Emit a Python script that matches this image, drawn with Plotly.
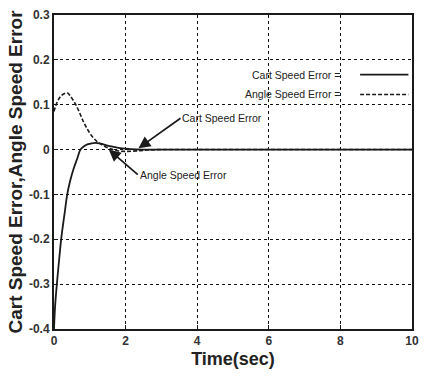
import plotly.graph_objects as go

# Data
t_cart = [0, 0.03, 0.08, 0.15, 0.2, 0.3, 0.37, 0.45, 0.55, 0.65, 0.74, 0.85, 0.95, 1.05, 1.17, 1.3, 1.45, 1.6, 1.8, 2.0, 2.3, 2.7, 3.0, 4.0, 6.0, 8.0, 10.0]
cart_err = [-0.4, -0.35, -0.3, -0.24, -0.2, -0.14, -0.1, -0.07, -0.042, -0.02, 0.0, 0.008, 0.012, 0.014, 0.015, 0.013, 0.01, 0.007, 0.004, 0.002, 0.0005, 0.0, 0.0, 0.0, 0.0, 0.0, 0.0]

t_angle = [0, 0.05, 0.1, 0.2, 0.3, 0.38, 0.45, 0.58, 0.7, 0.8, 0.9, 1.03, 1.2, 1.4, 1.6, 1.8, 2.0, 2.3, 2.6, 3.0, 4.0, 6.0, 8.0, 10.0]
angle_err = [0.085, 0.098, 0.108, 0.12, 0.125, 0.126, 0.12, 0.104, 0.085, 0.066, 0.05, 0.033, 0.018, 0.008, 0.001, -0.003, -0.004, -0.003, -0.001, 0.0, 0.0, 0.0, 0.0, 0.0]

x_ticks = [0, 2, 4, 6, 8, 10]
y_ticks = [0.3, 0.2, 0.1, 0, -0.1, -0.2, -0.3, -0.4]
y_labels = ["0.3", "0.2", "0.1", "0", "-0.1", "-0.2", "-0.3", "-0.4"]

legend_names = ["Cart Speed Error =", "Angle Speed Error ="]

FONT = "Liberation Sans"
INK = "#1a1a1a"
DASH = "4px,2px"

fig = go.Figure()
fig.add_trace(go.Scatter(x=t_cart, y=cart_err, mode="lines", line=dict(color=INK, width=1.8), line_shape="spline", showlegend=False))
fig.add_trace(go.Scatter(x=t_angle, y=angle_err, mode="lines", line=dict(color=INK, width=1.6, dash=DASH), line_shape="spline", showlegend=False))

# Legend (text left, line sample right)
leg_y = [0.81, 0.747]
for name, yy, dash in zip(legend_names, leg_y, ["solid", DASH]):
    fig.add_annotation(xref="paper", yref="paper", x=0.805, y=yy, text=name, showarrow=False,
                       xanchor="right", yanchor="middle", font=dict(family=FONT, size=10.5, color="#222"))
    fig.add_shape(type="line", xref="paper", yref="paper", x0=0.855, x1=0.99, y0=yy, y1=yy,
                  line=dict(color=INK, width=1.6, dash=dash))

# Arrow annotations
fig.add_annotation(x=2.36, y=0.003, ax=42, ay=-30, text="Cart Speed Error", showarrow=True,
                   arrowhead=2, arrowsize=1.4, arrowwidth=1.7, arrowcolor=INK,
                   xanchor="left", yanchor="middle", font=dict(family=FONT, size=10.5, color="#222"))
fig.add_annotation(x=1.53, y=0.0, ax=29, ay=25, text="Angle Speed Error", showarrow=True,
                   arrowhead=2, arrowsize=1.4, arrowwidth=1.7, arrowcolor=INK,
                   xanchor="left", yanchor="middle", font=dict(family=FONT, size=10.5, color="#222"))

axis_common = dict(showgrid=True, gridcolor="#111", griddash="dot", gridwidth=1.3,
                   showline=True, linecolor=INK, linewidth=2, mirror=True,
                   ticks="inside", ticklen=4, tickcolor=INK, zeroline=False,
                   tickfont=dict(family=FONT, size=12, color="#333", weight="bold"))

fig.update_xaxes(range=[0, 10], tickvals=x_ticks, ticktext=[str(v) for v in x_ticks],
                 title=dict(text="Time(sec)", font=dict(family=FONT, size=18, color="#222", weight="bold"), standoff=5),
                 **axis_common)
fig.update_yaxes(range=[-0.4, 0.3], tickvals=y_ticks, ticktext=y_labels,
                 title=dict(text="Cart Speed Error,Angle Speed Error", font=dict(family=FONT, size=19, color="#222", weight="bold"), standoff=1),
                 **axis_common)

fig.update_layout(width=427, height=379, margin=dict(l=54, r=8, t=12, b=50),
                  paper_bgcolor="white", plot_bgcolor="white", showlegend=False)

fig.write_html("out.html")
